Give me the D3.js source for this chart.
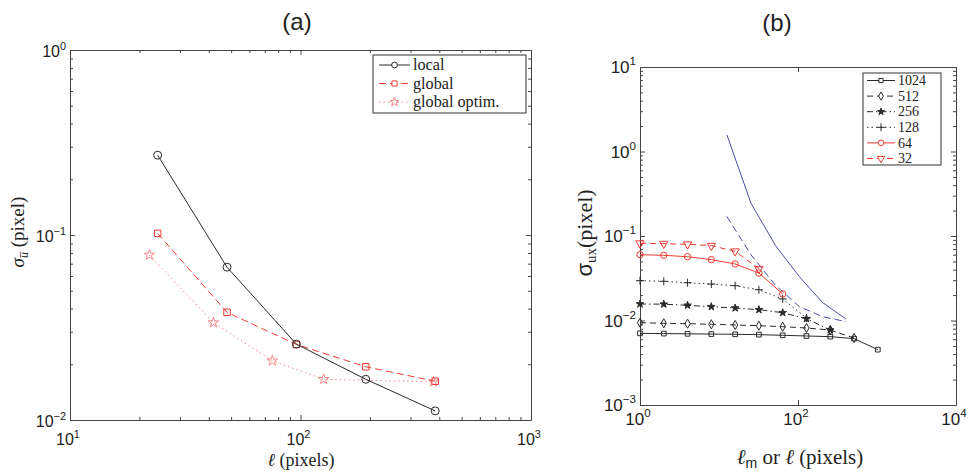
<!DOCTYPE html>
<html><head><meta charset="utf-8">
<script src="https://cdn.jsdelivr.net/npm/d3@7"></script>
<style>body{margin:0;background:#fff}
.serif{font-family:'Liberation Serif','Times New Roman',serif;font-weight:normal}
.sans{font-family:'Liberation Sans',Arial,sans-serif;font-weight:normal}
</style>
</head><body><svg id="c" width="971" height="472"></svg>
<script>
// ---------- Panel (a) data ----------
const aLength = [24, 48, 96, 192, 384];
const aLocal = [0.27, 0.067, 0.0257, 0.0166, 0.0112];
const aGlobal = [0.102, 0.0382, 0.0256, 0.0194, 0.0162];
const aOptimLength = [22.1, 41.9, 75.5, 126, 378];
const aOptim = [0.078, 0.0336, 0.0209, 0.0166, 0.0161];
const aXTickExp = [1, 2, 3];
const aYTickExp = [-2, -1, 0];
const aLegend = ["local", "global", "global optim."];

// ---------- Panel (b) data ----------
const bLength = [1, 2, 4, 8, 16, 32, 64, 128, 256, 512, 1024];
const b1024 = [0.00705, 0.00700, 0.00696, 0.00691, 0.00687, 0.00680, 0.00668, 0.00656, 0.00644, 0.0061, 0.00452];
const b512 = [0.00942, 0.00927, 0.00917, 0.00902, 0.00885, 0.00868, 0.00845, 0.00815, 0.00772, 0.0062];
const b256 = [0.01567, 0.0156, 0.01513, 0.01457, 0.01405, 0.01342, 0.01237, 0.0105, 0.00772];
const b128 = [0.0296, 0.0291, 0.0280, 0.0270, 0.0258, 0.0231, 0.0180, 0.0107];
const b64 = [0.0601, 0.0591, 0.0569, 0.0525, 0.0467, 0.0365, 0.0206];
const b32 = [0.082, 0.0811, 0.0798, 0.0768, 0.0659, 0.041];
const bLimitLength = [12.6, 25.4, 52, 104, 205, 405];
const bLimitSolid = [1.57, 0.244, 0.077, 0.033, 0.0163, 0.0104];
const bLimitDashed = [0.17, 0.06, 0.026, 0.0146, 0.0111, 0.0097];
const bXTickExp = [0, 2, 4];
const bYTickExp = [-3, -2, -1, 0, 1];
const bLegend = ["1024", "512", "256", "128", "64", "32"];

const svg = d3.select("#c");
const AX = "#444";
const RED = "#ee3b32";
const PINK = "#f7868a";
const BLK = "#2a2a2a";
const BLUE = "#4b4ea6";

function minors(lo, hi) {
  const out = [];
  for (let e = lo; e < hi; e++) for (let m = 2; m <= 9; m++) out.push(m * Math.pow(10, e));
  return out;
}

function box(g, x, y, xMinor, yMinor, xMajorVals, yMajorVals) {
  const [x0, x1] = x.range(), [y0, y1] = y.range();
  const mk = (axis, tr, vals, size) => {
    const a = g.append("g").attr("transform", tr)
      .call(axis.tickValues(vals).tickSizeInner(size).tickSizeOuter(0).tickFormat(""));
    a.selectAll("path,line").attr("stroke", AX);
    return a;
  };
  mk(d3.axisBottom(x), `translate(0,${y0})`, xMajorVals, -5);
  mk(d3.axisTop(x), `translate(0,${y1})`, xMajorVals, -5);
  mk(d3.axisLeft(y), `translate(${x0},0)`, yMajorVals, -5);
  mk(d3.axisRight(y), `translate(${x1},0)`, yMajorVals, -5);
  if (xMinor) {
    mk(d3.axisBottom(x), `translate(0,${y0})`, xMinor, -3).select(".domain").remove();
    mk(d3.axisTop(x), `translate(0,${y1})`, xMinor, -3).select(".domain").remove();
  }
  if (yMinor) {
    mk(d3.axisLeft(y), `translate(${x0},0)`, yMinor, -3).select(".domain").remove();
    mk(d3.axisRight(y), `translate(${x1},0)`, yMinor, -3).select(".domain").remove();
  }
}

function powLabel(g, px, py, exp, anchor, size) {
  const t = g.append("text").attr("class", "sans").attr("x", px).attr("y", py)
    .attr("font-size", size).attr("fill", "#222")
    .attr("text-anchor", anchor);
  t.append("tspan").text("10");
  t.append("tspan").attr("dy", -size * 0.45).attr("font-size", size * 0.68).text(String(exp).replace("-", "\u2212"));
}

function series(g, x, y, xs, ys, opt) {
  const pts = xs.map((v, i) => [v, ys[i]]);
  g.append("path").datum(pts)
    .attr("d", d3.line().x(d => x(d[0])).y(d => y(d[1])))
    .attr("fill", "none").attr("stroke", opt.color).attr("stroke-width", opt.width || 1)
    .attr("stroke-dasharray", opt.dash || null);
  if (opt.symbol) {
    g.selectAll(null).data(pts).enter().append("path")
      .attr("transform", d => `translate(${x(d[0])},${y(d[1])})${opt.rotate ? " rotate(180)" : ""}`)
      .attr("d", opt.plus ? "M-4,0H4M0,-4V4" : d3.symbol().type(opt.symbol).size(opt.size || 40))
      .attr("fill", opt.fill || "none").attr("stroke", opt.color).attr("stroke-width", 1);
  }
}

function legendItem(g, x1, x2, yy, opt, label, fontSize, textX) {
  g.append("line").attr("x1", x1).attr("x2", x2).attr("y1", yy).attr("y2", yy)
    .attr("stroke", opt.color).attr("stroke-width", 1).attr("stroke-dasharray", opt.dash || null);
  if (opt.symbol) {
    g.append("path").attr("transform", `translate(${(x1 + x2) / 2},${yy})${opt.rotate ? " rotate(180)" : ""}`)
      .attr("d", opt.plus ? "M-4,0H4M0,-4V4" : d3.symbol().type(opt.symbol).size(opt.size || 40))
      .attr("fill", opt.fill || "#fff").attr("stroke", opt.color);
  }
  g.append("text").attr("class", "serif").attr("x", textX).attr("y", yy + fontSize * 0.33)
    .attr("font-size", fontSize).attr("fill", "#222").text(label);
}

// ================= Panel (a) =================
{
  const g = svg.append("g");
  const x = d3.scaleLog().domain([10, 1000]).range([70, 531]);
  const y = d3.scaleLog().domain([0.01, 1]).range([420, 50]);
  box(g, x, y, minors(1, 3), minors(-2, 0), aXTickExp.map(e => Math.pow(10, e)), aYTickExp.map(e => Math.pow(10, e)));
  aXTickExp.forEach(e => powLabel(g, x(Math.pow(10, e)) - 2, 445, e, "middle", 16));
  aYTickExp.forEach(e => powLabel(g, 66, y(Math.pow(10, e)) + 7, e, "end", 16));

  const optLocal = { color: BLK, symbol: d3.symbolCircle, size: 50 };
  const optGlobal = { color: RED, symbol: d3.symbolSquare, size: 42, dash: "7,4" };
  const optOptim = { color: PINK, symbol: d3.symbolStar, size: 34, dash: "1.5,3" };
  series(g, x, y, aOptimLength, aOptim, optOptim);
  series(g, x, y, aLength, aGlobal, optGlobal);
  series(g, x, y, aLength, aLocal, optLocal);

  // legend
  g.append("rect").attr("x", 373).attr("y", 55).attr("width", 153).attr("height", 58)
    .attr("fill", "#fff").attr("stroke", "#333");
  [optLocal, optGlobal, optOptim].forEach((o, i) =>
    legendItem(g, 379, 410, 65 + i * 18.5, Object.assign({}, o, { size: 26 }), aLegend[i], 16.2, 413));

  g.append("text").attr("class", "sans").attr("x", 297).attr("y", 30).attr("text-anchor", "middle")
    .attr("font-size", 24).attr("fill", "#222").text("(a)");
  const xl = g.append("text").attr("class", "serif").attr("x", 301).attr("y", 466).attr("text-anchor", "middle")
    .attr("font-size", 18).attr("fill", "#222");
  xl.append("tspan").attr("font-style", "italic").text("\u2113");
  xl.append("tspan").text(" (pixels)");
  const yl = g.append("text").attr("class", "serif").attr("transform", "translate(24,232) rotate(-90)").attr("text-anchor", "middle")
    .attr("font-size", 19).attr("fill", "#222");
  yl.append("tspan").attr("font-style", "italic").text("\u03c3");
  yl.append("tspan").attr("font-style", "italic").attr("font-size", 12).attr("dy", 4).text("u\u0305");
  yl.append("tspan").attr("dy", -4).text(" (pixel)");
}

// ================= Panel (b) =================
{
  const g = svg.append("g");
  const x = d3.scaleLog().domain([1, 1e4]).range([640, 956]);
  const y = d3.scaleLog().domain([1e-3, 10]).range([405, 67]);
  box(g, x, y, null, minors(-3, 1), bXTickExp.map(e => Math.pow(10, e)), bYTickExp.map(e => Math.pow(10, e)));
  bXTickExp.forEach(e => powLabel(g, x(Math.pow(10, e)) - 2, 425, e, "middle", 17));
  bYTickExp.forEach(e => powLabel(g, 636, y(Math.pow(10, e)) + 6, e, "end", 17));

  series(g, x, y, bLimitLength, bLimitSolid, { color: BLUE });
  series(g, x, y, bLimitLength, bLimitDashed, { color: BLUE, dash: "7,4" });

  const opts = [
    { color: BLK, symbol: d3.symbolSquare, size: 22 },
    { color: BLK, symbol: d3.symbolDiamond, size: 24, dash: "6,4" },
    { color: BLK, symbol: d3.symbolStar, size: 18, dash: "6,3,1.5,3", fill: BLK },
    { color: BLK, symbol: d3.symbolCross, plus: true, dash: "1.5,3" },
    { color: RED, symbol: d3.symbolCircle, size: 32 },
    { color: RED, symbol: d3.symbolTriangle, size: 30, dash: "6,4", rotate: true }
  ];
  const bData = [b1024, b512, b256, b128, b64, b32];
  bData.forEach((ys, i) => series(g, x, y, bLength.slice(0, ys.length), ys, opts[i]));

  // legend
  g.append("rect").attr("x", 863).attr("y", 73).attr("width", 78).attr("height", 92)
    .attr("fill", "#fff").attr("stroke", "#333");
  opts.forEach((o, i) => {
    const yy = 80.5 + i * 15.6;
    legendItem(g, 867, 895, yy, Object.assign({}, o, { size: (o.size || 20) * 0.8 }), bLegend[i], 14, 898);
  });

  g.append("text").attr("class", "sans").attr("x", 777).attr("y", 31).attr("text-anchor", "middle")
    .attr("font-size", 24).attr("fill", "#222").text("(b)");
  const xl = g.append("text").attr("class", "serif").attr("x", 800).attr("y", 464).attr("text-anchor", "middle")
    .attr("font-size", 21).attr("fill", "#222");
  xl.append("tspan").attr("font-style", "italic").text("\u2113");
  xl.append("tspan").attr("class", "sans").attr("font-size", 14).attr("dy", 4).text("m");
  xl.append("tspan").attr("dy", -4).text(" or ");
  xl.append("tspan").attr("font-style", "italic").text("\u2113");
  xl.append("tspan").text(" (pixels)");
  const yl = g.append("text").attr("class", "serif").attr("transform", "translate(592,233) rotate(-90)").attr("text-anchor", "middle")
    .attr("font-size", 22).attr("fill", "#222");
  yl.append("tspan").attr("class", "sans").text("\u03c3");
  yl.append("tspan").attr("font-size", 15).attr("dy", 4).text("ux");
  yl.append("tspan").attr("dy", -4).text("(pixel)");
}
</script></body></html>
